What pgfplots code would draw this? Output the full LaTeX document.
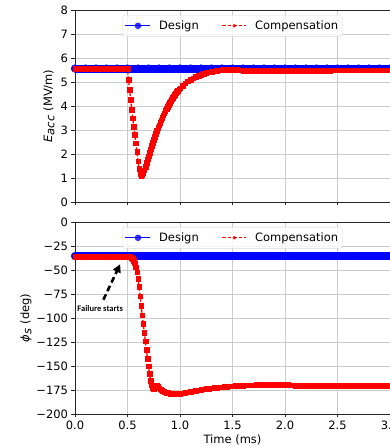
\documentclass[border=0pt]{standalone}
\usepackage{pgfplots}
\pgfplotsset{compat=1.18}
\usepackage{fontspec}
\setmainfont{DejaVu Sans}
\newfontfamily\carlito{Carlito}
\usetikzlibrary{arrows.meta}
\pgfplotsset{
  myaxis/.style={
    scale only axis, width=315pt, height=192pt,
    xmin=0, xmax=3,
    xtick={0,0.5,1,1.5,2,2.5,3},
    grid=major, grid style={color=black!20, line width=0.6pt},
    axis line style={black!85, line width=0.7pt},
    tick align=outside, xtick pos=bottom, ytick pos=left,
    major tick length=3.5pt, tick style={black!85, line width=0.7pt},
    /pgf/number format/assume math mode=true,
    tick label style={font=\fontsize{11.5}{13}\selectfont},
    label style={font=\fontsize{11.5}{13}\selectfont},
    legend style={at={([yshift=-5pt]axis description cs:0.5,1)}, anchor=north,
      legend columns=2, draw=black!15, rounded corners=2pt, fill=white, fill opacity=0.8, text opacity=1,
      font=\fontsize{11.5}{13}\selectfont, inner xsep=2pt, inner ysep=3.5pt,
      /tikz/every odd column/.append style={column sep=6pt},
      /tikz/every even column/.append style={column sep=21pt}},
    legend cell align=left,
  },
}
\begin{document}
\begin{tikzpicture}
% ---------------- top axis ----------------
\begin{axis}[myaxis, at={(0pt,212pt)}, anchor=south west,
  ymin=0, ymax=8, ytick={0,1,2,3,4,5,6,7,8}, xticklabels={},
  ylabel={\textit{E}$_{\textit{acc}}$ (MV/m)},
  ylabel style={at={([xshift=-26pt]axis description cs:0,0.5)}, anchor=center},
]
\addplot[blue, line width=8pt, mark=*, mark size=3.9pt, mark options={solid, line width=0.3pt},
  legend image code/.code={\draw[blue, line width=1.2pt] (0pt,0pt) -- (25pt,0pt); \path[fill=blue, draw=none] (12.5pt,0pt) circle (3.3pt);}]
coordinates {
(0,5.56) (0.1,5.56) (0.2,5.56) (0.3,5.56) (0.4,5.56) (0.5,5.56) (0.6,5.56) (0.7,5.56) (0.8,5.56) (0.9,5.56)
(1.0,5.56) (1.1,5.56) (1.2,5.56) (1.3,5.56) (1.4,5.56) (1.5,5.56) (1.6,5.56) (1.7,5.56) (1.8,5.56) (1.9,5.56)
(2.0,5.56) (2.1,5.56) (2.2,5.56) (2.3,5.56) (2.4,5.56) (2.5,5.56) (2.6,5.56) (2.7,5.56) (2.8,5.56) (2.9,5.56) (3.0,5.56)
};
\addlegendentry{Design}
\addplot[red, line width=1.3pt, dash pattern=on 3.5pt off 2pt, mark=square*, mark size=2.3pt, mark options={solid, line width=0.2pt},
  legend image code/.code={\draw[red, line width=1.3pt, dash pattern=on 3.5pt off 2pt] (0pt,0pt) -- (24pt,0pt); \path[fill=red, draw=none] (10.2pt,-1.8pt) rectangle (13.8pt,1.8pt);}]
coordinates {
(0,5.57) (0.025,5.57) (0.05,5.57) (0.075,5.57) (0.1,5.57) (0.125,5.57) (0.15,5.57) (0.175,5.57) (0.2,5.57) (0.225,5.57)
(0.25,5.57) (0.275,5.57) (0.3,5.57) (0.325,5.57) (0.35,5.57) (0.375,5.57) (0.4,5.57) (0.425,5.57) (0.45,5.57) (0.475,5.57) (0.5,5.57)
(0.51,5.10) (0.52,4.68) (0.53,4.26) (0.54,3.85) (0.55,3.50) (0.56,3.15) (0.57,2.80) (0.58,2.45) (0.59,2.10) (0.60,1.70)
(0.61,1.38) (0.62,1.18) (0.63,1.10) (0.64,1.12) (0.65,1.20) (0.66,1.33) (0.67,1.48) (0.68,1.63) (0.69,1.78) (0.70,1.92)
(0.71,2.06) (0.72,2.20) (0.73,2.34) (0.74,2.47) (0.75,2.60) (0.76,2.72) (0.77,2.85) (0.78,2.97) (0.79,3.09) (0.80,3.20)
(0.81,3.31) (0.82,3.42) (0.83,3.52) (0.84,3.62) (0.85,3.71) (0.86,3.80) (0.87,3.89) (0.88,3.98) (0.89,4.06) (0.90,4.14)
(0.91,4.21) (0.92,4.28) (0.93,4.35) (0.94,4.42) (0.95,4.48) (0.96,4.54) (0.97,4.60) (0.98,4.65) (0.99,4.70) (1.00,4.75)
(1.025,4.86) (1.05,4.96) (1.075,5.04) (1.1,5.11) (1.125,5.17) (1.15,5.22) (1.175,5.27) (1.2,5.31) (1.225,5.35) (1.25,5.38)
(1.275,5.41) (1.3,5.44) (1.325,5.46) (1.35,5.48) (1.375,5.50) (1.4,5.51) (1.425,5.52) (1.45,5.52) (1.475,5.52) (1.5,5.52)
(1.525,5.52) (1.55,5.52) (1.575,5.50) (1.6,5.48) (1.625,5.47) (1.65,5.47) (1.675,5.47) (1.7,5.47) (1.725,5.47) (1.75,5.47)
(1.775,5.47) (1.8,5.47) (1.825,5.47) (1.85,5.47) (1.875,5.47) (1.9,5.47) (1.925,5.47) (1.95,5.47) (1.975,5.47) (2.0,5.47)
(2.025,5.47) (2.05,5.47) (2.075,5.47) (2.1,5.47) (2.125,5.47) (2.15,5.47) (2.175,5.47) (2.2,5.47) (2.225,5.47) (2.25,5.47)
(2.275,5.47) (2.3,5.47) (2.325,5.47) (2.35,5.47) (2.375,5.47) (2.4,5.47) (2.425,5.48) (2.45,5.49) (2.475,5.50) (2.5,5.50)
(2.525,5.50) (2.55,5.50) (2.575,5.50) (2.6,5.50) (2.625,5.50) (2.65,5.50) (2.675,5.50) (2.7,5.50) (2.725,5.50) (2.75,5.50)
(2.775,5.50) (2.8,5.50) (2.825,5.50) (2.85,5.50) (2.875,5.50) (2.9,5.50) (2.925,5.50) (2.95,5.50) (2.975,5.50) (3.0,5.50)
};
\addlegendentry{Compensation}
\end{axis}
% ---------------- bottom axis ----------------
\begin{axis}[myaxis, at={(0pt,0pt)}, anchor=south west,
  ymin=-200, ymax=0, ytick={-200,-175,-150,-125,-100,-75,-50,-25,0},
  yticklabels={−200,−175,−150,−125,−100,−75,−50,−25,0},
  xticklabels={0.0,0.5,1.0,1.5,2.0,2.5,3.0},
  ylabel={\textit{ϕ}$_{\textit{s}}$ (deg)},
  ylabel style={at={([xshift=-49pt]axis description cs:0,0.5)}, anchor=center},
  xlabel={Time (ms)},
  xlabel style={at={([yshift=-26pt]axis description cs:0.5,0)}, anchor=center},
]
\addplot[blue, line width=8pt, mark=*, mark size=3.9pt, mark options={solid, line width=0.3pt},
  legend image code/.code={\draw[blue, line width=1.2pt] (0pt,0pt) -- (25pt,0pt); \path[fill=blue, draw=none] (12.5pt,0pt) circle (3.3pt);}]
coordinates {
(0,-35.5) (0.1,-35.5) (0.2,-35.5) (0.3,-35.5) (0.4,-35.5) (0.5,-35.5) (0.6,-35.5) (0.7,-35.5) (0.8,-35.5) (0.9,-35.5)
(1.0,-35.5) (1.1,-35.5) (1.2,-35.5) (1.3,-35.5) (1.4,-35.5) (1.5,-35.5) (1.6,-35.5) (1.7,-35.5) (1.8,-35.5) (1.9,-35.5)
(2.0,-35.5) (2.1,-35.5) (2.2,-35.5) (2.3,-35.5) (2.4,-35.5) (2.5,-35.5) (2.6,-35.5) (2.7,-35.5) (2.8,-35.5) (2.9,-35.5) (3.0,-35.5)
};
\addlegendentry{Design}
\addplot[red, line width=1.3pt, dash pattern=on 3.5pt off 2pt, mark=square*, mark size=2.3pt, mark options={solid, line width=0.2pt},
  legend image code/.code={\draw[red, line width=1.3pt, dash pattern=on 3.5pt off 2pt] (0pt,0pt) -- (24pt,0pt); \path[fill=red, draw=none] (10.2pt,-1.8pt) rectangle (13.8pt,1.8pt);}]
coordinates {
(0,-36) (0.025,-36) (0.05,-36) (0.075,-36) (0.1,-36) (0.125,-36) (0.15,-36) (0.175,-36) (0.2,-36) (0.225,-36)
(0.25,-36) (0.275,-36) (0.3,-36) (0.325,-36) (0.35,-36) (0.375,-36) (0.4,-36) (0.425,-36) (0.45,-36) (0.475,-36) (0.5,-36)
(0.51,-36) (0.52,-36) (0.53,-36.5) (0.54,-37) (0.55,-38) (0.56,-40) (0.57,-43) (0.58,-47) (0.59,-52) (0.60,-59)
(0.61,-67) (0.62,-77) (0.63,-87) (0.64,-97) (0.65,-106) (0.66,-115) (0.67,-124) (0.68,-133) (0.69,-142) (0.70,-150)
(0.71,-158) (0.72,-165) (0.73,-170) (0.74,-173) (0.75,-174) (0.76,-173) (0.77,-171) (0.78,-170.5) (0.79,-171.5) (0.80,-173)
(0.81,-174) (0.82,-174.8) (0.83,-175.5) (0.84,-176) (0.85,-176.5) (0.86,-177) (0.87,-177.4) (0.88,-177.8) (0.89,-178.1) (0.90,-178.4)
(0.91,-178.6) (0.92,-178.8) (0.93,-179) (0.94,-179.1) (0.95,-179.2) (0.96,-179.2) (0.97,-179.1) (0.98,-179) (0.99,-178.8) (1.00,-178.6)
(1.025,-178.1) (1.05,-177.6) (1.075,-177.1) (1.1,-176.6) (1.125,-176.1) (1.15,-175.6) (1.175,-175.1) (1.2,-174.6) (1.225,-174.2) (1.25,-173.8)
(1.275,-173.4) (1.3,-173) (1.325,-172.7) (1.35,-172.4) (1.375,-172.1) (1.4,-171.8) (1.425,-171.5) (1.45,-171.3) (1.475,-171.1) (1.5,-170.9)
(1.525,-170.7) (1.55,-170.5) (1.575,-170.3) (1.6,-170.2) (1.625,-170) (1.65,-169.9) (1.675,-169.8) (1.7,-169.7) (1.725,-169.6) (1.75,-169.5)
(1.775,-169.4) (1.8,-169.3) (1.825,-169.3) (1.85,-169.3) (1.875,-169.3) (1.9,-169.3) (1.925,-169.3) (1.95,-169.3) (1.975,-169.3) (2.0,-169.3)
(2.025,-169.5) (2.05,-169.8) (2.075,-170) (2.1,-170.2) (2.125,-170.4) (2.15,-170.5) (2.175,-170.5) (2.2,-170.5) (2.225,-170.5) (2.25,-170.5)
(2.275,-170.5) (2.3,-170.5) (2.325,-170.5) (2.35,-170.5) (2.375,-170.5) (2.4,-170.5) (2.425,-170.5) (2.45,-170.5) (2.475,-170.5) (2.5,-170.5)
(2.525,-170.5) (2.55,-170.5) (2.575,-170.5) (2.6,-170.5) (2.625,-170.5) (2.65,-170.5) (2.675,-170.5) (2.7,-170.5) (2.725,-170.5) (2.75,-170.5)
(2.775,-170.5) (2.8,-170.5) (2.825,-170.5) (2.85,-170.5) (2.875,-170.5) (2.9,-170.5) (2.925,-170.5) (2.95,-170.5) (2.975,-170.5) (3.0,-170.5)
};
\addlegendentry{Compensation}
\draw[-{Triangle[length=8pt,width=8pt]}, line width=2.6pt, dash pattern=on 6pt off 3.5pt] (axis cs:0.27,-81) -- (axis cs:0.43,-44);
\node[font=\carlito\bfseries\fontsize{8.5}{10}\selectfont] at (axis cs:0.24,-90) {Failure starts};
\end{axis}
\pgfresetboundingbox
\path[use as bounding box] (-75pt,-33pt) rectangle (314.8pt,414pt);
\end{tikzpicture}
\end{document}
